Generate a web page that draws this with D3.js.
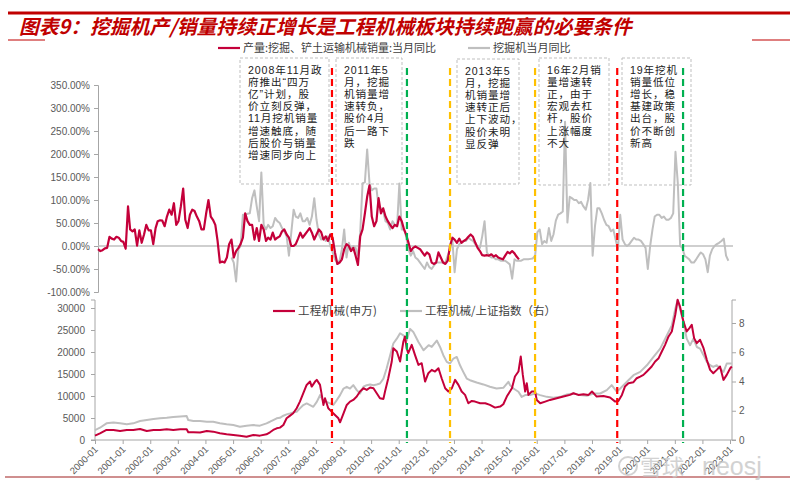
<!DOCTYPE html>
<html><head><meta charset="utf-8">
<script src="https://cdn.jsdelivr.net/npm/d3@7"></script>
<style>body{margin:0;background:#fff}svg{display:block}</style>
</head><body><svg id="c" width="800" height="496"></svg>
<script>
// ===== DATA =====
const titleText = "图表9：挖掘机产/销量持续正增长是工程机械板块持续跑赢的必要条件";
const topLegend = ["产量:挖掘、铲土运输机械销量:当月同比", "挖掘机当月同比"];
const bottomLegend = ["工程机械(申万)", "工程机械/上证指数（右）"];

// top chart: monthly YoY (%)
const prodYoYStart = "2000-01";
const prodYoY = [-7,-11,-9,-5,-4,20,16,14,20,18,
11,9,-6,86,36,32,36,1,34,7,
25,46,34,34,4,39,54,56,55,43,
64,79,68,93,46,54,86,125,57,39,
68,79,76,64,54,36,36,70,100,64,
57,46,11,-36,-34,-36,-25,4,14,-25,
-11,-4,4,18,71,54,46,46,14,39,
11,46,36,11,18,14,29,14,18,21,
32,36,25,18,0,0,4,16,29,18,
25,32,39,29,14,25,36,30,14,21,
11,25,18,-14,-39,-36,-29,-7,4,0,
-11,-4,-21,-41,21,36,71,107,132,64,
43,54,104,71,82,64,54,46,39,46,
43,64,54,36,25,7,-11,-4,-1,-4,
-7,-14,-21,-14,-18,-36,-39,-36,-14,-25,
-36,-39,-32,0,18,14,7,16,7,11,
14,20,25,20,7,-4,-11,-20,-21,-20,
-21,-18,-23,-20,-25,-27,-29,-21,-13,-16,
-11,-16,-23,-29];

const excYoYStart = "2004-11";
const excYoY = [-25,-36,
-77,-7,0,68,68,70,71,104,121,86,
54,160,46,36,46,39,43,61,54,50,
39,32,21,-21,29,79,64,61,71,54,
54,61,46,64,104,57,25,14,18,11,
21,0,-14,-29,-36,-32,-7,36,-25,7,
-7,0,-4,-21,29,136,139,210,136,121,
125,125,86,82,75,54,50,36,54,46,
43,136,36,36,21,-7,-21,-11,-25,-29,
-36,-43,-50,-36,-46,-50,-43,-36,-36,-36,
-36,-36,-21,-7,14,-57,-7,4,7,11,
11,18,14,11,4,0,-4,21,54,-14,
-21,-25,-25,-29,-29,-32,-32,-32,-36,-40,
-71,-29,-32,-32,-32,-29,-29,-29,-28,-27,
-21,30,36,4,11,7,39,11,25,55,
68,71,75,270,51,107,104,100,100,93,
96,86,79,100,137,-21,43,82,82,71,
57,46,43,32,36,14,-7,68,14,4,
0,4,11,18,14,14,11,4,-4,-50,
0,36,64,68,68,61,64,57,57,61,
71,205,136,0,-4,-21,-25,-29,-36,-36,
-29,-21,-14,-18,-29,-57,-21,-7,0,4,
7,11,16,-21,-32];

const topTicks = [-100,-50,0,50,100,150,200,250,300,350];

// bottom chart: Shenwan machinery index (left axis)
const machineryIndex = [["2000-01-01",990],["2000-03-07",1500],["2000-06-01",2280],["2000-09-01",2280],["2000-11-28",2050],["2001-02-25",2280],["2001-05-22",2280],["2001-08-19",2500],["2001-11-16",2050],["2002-02-13",2280],["2002-05-10",2280],["2002-08-07",2430],["2002-11-01",2280],["2003-02-01",2430],["2003-04-28",2430],["2003-05-19",1750],["2003-07-25",1750],["2003-10-22",1700],["2004-01-19",2050],["2004-04-13",1900],["2004-07-10",1520],["2004-10-07",1290],["2005-01-04",1140],["2005-04-01",990],["2005-06-28",760],["2005-09-25",1140],["2005-12-22",990],["2006-03-19",1290],["2006-05-04",1750],["2006-06-16",2280],["2006-08-01",2660],["2006-09-13",2810],["2006-10-28",3420],["2006-12-10",4930],["2007-01-25",5540],["2007-03-07",6070],["2007-04-22",7210],["2007-06-04",8730],["2007-07-19",10630],["2007-09-01",12520],["2007-10-16",13280],["2007-11-07",12140],["2007-12-22",13280],["2008-01-13",13660],["2008-02-25",12520],["2008-03-19",10250],["2008-04-10",7970],["2008-05-01",9490],["2008-06-13",7210],["2008-07-28",6450],["2008-09-10",5690],["2008-10-25",4930],["2008-11-16",4020],["2009-01-01",6070],["2009-02-13",7970],["2009-03-28",8730],["2009-05-10",9110],["2009-06-25",9870],["2009-08-07",11010],["2009-09-22",11760],["2009-11-04",11380],["2009-12-19",11920],["2010-02-01",11760],["2010-03-16",10630],["2010-04-28",9490],["2010-06-13",9340],["2010-07-04",11010],["2010-08-16",14040],["2010-10-01",17840],["2010-10-22",20870],["2010-12-07",20110],["2011-01-19",17840],["2011-03-04",22390],["2011-03-25",23530],["2011-04-16",20870],["2011-05-07",19730],["2011-06-22",21630],["2011-08-04",19350],["2011-09-19",17080],["2011-11-01",17460],["2011-12-16",13280],["2012-01-28",15180],["2012-03-13",15940],["2012-04-25",15560],["2012-06-10",16320],["2012-07-22",14040],["2012-09-07",11760],["2012-10-19",11010],["2012-12-04",11760],["2013-01-16",13660],["2013-03-01",12520],["2013-04-13",11010],["2013-05-28",10250],["2013-07-10",8350],["2013-08-25",8880],["2013-10-07",8730],["2013-12-13",8350],["2014-02-19",8350],["2014-04-22",7970],["2014-06-28",7360],["2014-09-04",7590],["2014-10-16",8120],["2014-12-01",9870],["2015-02-07",11760],["2015-03-19",14420],["2015-05-04",15560],["2015-06-04",18980],["2015-07-01",14800],["2015-08-01",11010],["2015-08-22",12900],["2015-09-13",10250],["2015-10-28",11010],["2015-12-10",11010],["2016-01-01",9110],["2016-02-16",8350],["2016-04-22",8730],["2016-06-25",9110],["2016-09-22",9490],["2016-12-19",9870],["2017-03-16",10250],["2017-05-01",10630],["2017-07-04",10250],["2017-09-10",10400],["2017-11-16",10250],["2018-01-01",11010],["2018-03-04",9870],["2018-06-01",10000],["2018-08-28",9640],["2018-11-04",8730],["2018-12-16",8880],["2019-02-01",10250],["2019-03-13",12140],["2019-04-28",12900],["2019-07-04",13130],["2019-08-16",14040],["2019-10-01",14420],["2019-11-13",14800],["2019-12-28",15560],["2020-03-01",16700],["2020-04-16",17840],["2020-06-01",18600],["2020-07-13",20110],["2020-08-25",21630],["2020-10-10",23530],["2020-11-22",24670],["2021-01-07",28460],["2021-02-07",31880],["2021-03-10",30360],["2021-04-25",26950],["2021-06-07",24670],["2021-07-13",25430],["2021-08-13",26190],["2021-09-13",23150],["2021-10-19",22010],["2021-12-01",22770],["2022-01-16",20870],["2022-02-28",18220],["2022-04-13",15940],["2022-05-25",15180],["2022-07-10",15940],["2022-08-22",16700],["2022-10-07",13660],["2022-11-19",14800],["2023-01-04",16320],["2023-01-25",16700]];

// bottom chart: machinery / SSE composite ratio (right axis)
const relativeRatio = [["2000-01-01",0.68],["2000-03-07",0.84],["2000-06-01",1.14],["2000-09-01",1.2],["2000-11-28",1.14],["2001-02-25",1.07],["2001-05-22",1.14],["2001-08-19",1.3],["2001-11-16",1.36],["2002-02-13",1.43],["2002-05-10",1.48],["2002-08-07",1.52],["2002-11-01",1.57],["2003-02-01",1.61],["2003-04-28",1.64],["2003-05-19",1.36],["2003-07-25",1.3],["2003-10-22",1.3],["2004-01-19",1.25],["2004-04-13",1.25],["2004-07-10",1.14],["2004-10-07",1.07],["2005-01-04",1.02],["2005-04-01",0.91],["2005-06-28",0.98],["2005-09-25",1.02],["2005-12-22",0.98],["2006-03-19",1.14],["2006-05-04",1.25],["2006-06-16",1.36],["2006-08-01",1.48],["2006-09-13",1.52],["2006-10-28",1.66],["2006-12-10",1.75],["2007-01-25",1.82],["2007-03-07",1.89],["2007-04-22",1.93],["2007-06-04",2.16],["2007-07-19",2.39],["2007-09-01",2.5],["2007-10-16",2.39],["2007-11-28",2.27],["2008-01-13",2.61],["2008-02-04",2.84],["2008-02-25",3.07],["2008-04-10",2.66],["2008-05-22",2.61],["2008-07-07",2.5],["2008-08-19",2.39],["2008-10-04",2.73],["2008-11-16",3.07],["2009-01-01",3.52],["2009-02-13",3.64],["2009-03-28",3.52],["2009-05-10",3.75],["2009-06-25",3.41],["2009-08-07",3.18],["2009-09-22",3.64],["2009-11-04",3.75],["2009-12-19",3.8],["2010-02-01",3.75],["2010-03-16",3.8],["2010-04-28",3.86],["2010-06-13",4.2],["2010-07-25",4.89],["2010-09-10",5.8],["2010-10-22",6.6],["2010-12-07",6.93],["2011-01-19",7.3],["2011-03-04",7.16],["2011-04-16",6.8],["2011-06-01",7.6],["2011-07-13",7.39],["2011-09-19",6.7],["2011-11-25",6.14],["2012-02-01",6.48],["2012-03-13",6.36],["2012-05-19",6.8],["2012-07-01",6.36],["2012-08-13",5.8],["2012-09-28",5.34],["2012-11-10",5.23],["2012-12-25",5.57],["2013-02-07",5.68],["2013-03-22",5.11],["2013-05-04",4.66],["2013-06-19",4.2],["2013-08-01",4.09],["2013-10-28",3.93],["2014-01-25",3.8],["2014-04-22",3.64],["2014-07-19",3.52],["2014-10-16",3.57],["2014-12-22",3.98],["2015-01-13",3.75],["2015-02-28",3.52],["2015-05-04",3.3],["2015-06-16",2.95],["2015-08-01",3.07],["2015-10-04",3.07],["2015-12-10",3.18],["2016-02-16",3.07],["2016-05-13",2.95],["2016-08-10",2.89],["2016-11-07",2.95],["2017-02-04",3.11],["2017-05-01",3.18],["2017-07-28",3.07],["2017-10-25",3.02],["2018-01-22",3.18],["2018-04-19",3.18],["2018-07-16",3.41],["2018-09-19",3.75],["2018-11-25",3.3],["2019-01-10",3.52],["2019-02-22",3.75],["2019-04-28",4.09],["2019-07-04",4.43],["2019-10-01",4.66],["2019-12-28",5.11],["2020-03-25",5.68],["2020-06-22",6.25],["2020-09-19",7.16],["2020-11-22",7.84],["2021-01-07",8.98],["2021-02-07",9.55],["2021-03-10",8.98],["2021-04-25",8.07],["2021-06-07",6.93],["2021-07-22",6.48],["2021-09-04",6.93],["2021-10-19",6.36],["2021-12-01",6.25],["2022-01-16",5.8],["2022-02-28",5.34],["2022-04-13",5.11],["2022-05-25",5.0],["2022-07-10",5.11],["2022-08-22",4.89],["2022-10-07",4.66],["2022-11-19",5.23],["2023-01-25",5.23]];

const leftTicks = [0,5000,10000,15000,20000,25000,30000];
const rightTicks = [0,2,4,6,8];
const xTickLabels = ["2000-01","2001-01","2002-01","2003-01","2004-01","2005-01","2006-01","2007-01","2008-01","2009-01","2010-01","2011-01","2012-01","2013-01","2014-01","2015-01","2016-01","2017-01","2018-01","2019-01","2020-01","2021-01","2022-01","2023-01"];

// vertical event markers
const markerDates = ["2008-08-01","2011-04-20","2012-11-10","2015-12-10","2018-12-01","2021-04-20"];
const markerKinds = ["negative","positive","neutral","neutral","negative","positive"];

// annotation texts
const noteLines = [
  ["2008年11月政","府推出“四万","亿”计划，股","价立刻反弹，","11月挖机销量","增速触底，随","后股价与销量","增速同步向上"],
  ["2011年5","月，挖掘","机销量增","速转负，","股价4月","后一路下","跌"],
  ["2013年5","月，挖掘","机销量增","速转正后","上下波动，","股价未明","显反弹"],
  ["16年2月销","量增速转","正，由于","宏观去杠","杆，股价","上涨幅度","不大"],
  ["19年挖机","销量低位","增长，稳","基建政策","出台，股","价不断创","新高"]
];
const watermark = ["雪球", "neosj"];

// ===== LAYOUT / STYLE =====
const RED = "#c4003a", GRAY = "#bfbfbf", AX = "#a6a6a6", TXT = "#595959";
const CJK = "'Noto Sans CJK SC','Noto Sans',sans-serif";
const NOTEF = "'Liberation Sans','Noto Sans CJK SC',sans-serif";
const LAT = "'Liberation Sans',Arial,sans-serif";
const kindColor = {negative:"#ff0000", positive:"#00b050", neutral:"#ffc000"};
const noteBoxes = [[240,58,329,184],[336,58,402,184],[457,59,519,184],[539,58,609,185],[622,58,691,185]];

const svg = d3.select("#c");
const pM = d3.timeParse("%Y-%m"), pD = d3.timeParse("%Y-%m-%d");
const d0 = pD("2000-01-01"), d1 = pD("2023-01-01");
const xTop = d3.scaleTime().domain([d0,d1]).range([98,733]);
const xBot = d3.scaleTime().domain([d0,d1]).range([95,730]);
const yTop = d3.scaleLinear().domain([-100,350]).range([292,85]);
const yLeft = d3.scaleLinear().domain([0,30000]).range([440,308]);
const yRight = d3.scaleLinear().domain([0,8]).range([440,323]);

// header
svg.append("line").attr("x1",8).attr("x2",790).attr("y1",13).attr("y2",13).attr("stroke","#c00000").attr("stroke-width",3);
svg.append("text").attr("x",19).attr("y",34).text(titleText)
  .attr("font-family",CJK).attr("font-size",19.8).attr("font-weight","bold").attr("font-style","italic").attr("fill","#c00000");
svg.append("line").attr("x1",8).attr("x2",45).attr("y1",40).attr("y2",40).attr("stroke","#c00000").attr("stroke-width",1.2);
svg.append("line").attr("x1",752).attr("x2",790).attr("y1",40).attr("y2",40).attr("stroke","#c00000").attr("stroke-width",1.2);

// legend helper
function legendItem(x, y, color, label, fs, ls) {
  svg.append("line").attr("x1",x).attr("x2",x+22).attr("y1",y).attr("y2",y).attr("stroke",color).attr("stroke-width",2.2);
  svg.append("text").attr("x",x+25).attr("y",y+4).text(label).attr("font-family",CJK).attr("font-size",fs)
    .attr("letter-spacing",ls).attr("fill","#404040");
}
legendItem(218,48,RED,topLegend[0],11.0,0);
legendItem(468,48,GRAY,topLegend[1],11.1,0);

// top axis
const gTop = svg.append("g").attr("transform","translate(98,0)")
  .call(d3.axisLeft(yTop).tickValues(topTicks).tickFormat(d=>d.toFixed(2)+"%").tickSize(4).tickPadding(4));
gTop.selectAll("path,line").attr("stroke",AX);
gTop.selectAll("text").attr("font-family",LAT).attr("font-size",10).attr("fill",TXT);
svg.append("line").attr("x1",98).attr("x2",733).attr("y1",yTop(0)).attr("y2",yTop(0)).attr("stroke",GRAY).attr("stroke-width",1.5);

const prodData = prodYoY.map((v,i)=>[d3.timeMonth.offset(pM(prodYoYStart),i),v]);
const excData = excYoY.map((v,i)=>[d3.timeMonth.offset(pM(excYoYStart),i),v]);
const lTop = d3.line().x(d=>xTop(d[0])).y(d=>yTop(d[1]));
svg.append("path").datum(excData).attr("d",lTop).attr("fill","none").attr("stroke",GRAY).attr("stroke-width",2).attr("stroke-linejoin","round");
svg.append("path").datum(prodData).attr("d",lTop).attr("fill","none").attr("stroke",RED).attr("stroke-width",2.2).attr("stroke-linejoin","round");

// bottom axes
const gL = svg.append("g").attr("transform","translate(95,0)")
  .call(d3.axisLeft(yLeft).tickValues(leftTicks).tickSize(4).tickPadding(6).tickFormat(d3.format("d")));
gL.select(".domain").attr("d","M-4,300H0V440H-4");
gL.selectAll("path,line").attr("stroke",AX);
gL.selectAll("text").attr("font-family",LAT).attr("font-size",10).attr("fill",TXT);
const gR = svg.append("g").attr("transform","translate(732,0)")
  .call(d3.axisRight(yRight).tickValues(rightTicks).tickSize(4).tickPadding(3));
gR.select(".domain").attr("d","M4,300H0V440H4");
gR.selectAll("path,line").attr("stroke",AX);
gR.selectAll("text").attr("font-family",LAT).attr("font-size",10).attr("fill",TXT);
const tickDates = xTickLabels.map(pM);
const gX = svg.append("g").attr("transform","translate(0,440)")
  .call(d3.axisBottom(xBot).tickValues(tickDates).tickSize(4).tickFormat(d3.timeFormat("%Y-%m")));
gX.select(".domain").attr("d","M95,0H732");
gX.selectAll("path,line").attr("stroke",AX);
gX.selectAll("text").attr("font-family",LAT).attr("font-size",9.5).attr("fill",TXT)
  .attr("text-anchor","end").attr("y",0).attr("dy",0)
  .attr("transform","translate(3,10) rotate(-45)");

const idxData = machineryIndex.map(d=>[pD(d[0]),d[1]]);
const ratData = relativeRatio.map(d=>[pD(d[0]),d[1]]);
svg.append("path").datum(ratData).attr("d",d3.line().x(d=>xBot(d[0])).y(d=>yRight(d[1])))
  .attr("fill","none").attr("stroke",GRAY).attr("stroke-width",2).attr("stroke-linejoin","round");
svg.append("path").datum(idxData).attr("d",d3.line().x(d=>xBot(d[0])).y(d=>yLeft(d[1])))
  .attr("fill","none").attr("stroke",RED).attr("stroke-width",2).attr("stroke-linejoin","round");

// bottom legend
legendItem(273,311,RED,bottomLegend[0],11.5,0.3);
legendItem(400,311,GRAY,bottomLegend[1],11.5,0);

// event markers
markerDates.forEach((d,i)=>{
  const x = xBot(pD(d));
  svg.append("line").attr("x1",x).attr("x2",x).attr("y1",68).attr("y2",443)
    .attr("stroke",kindColor[markerKinds[i]]).attr("stroke-width",2.2).attr("stroke-dasharray","7,4");
});

// annotation boxes
const NOTE_FS = 10.6, NOTE_LH = 12.1;
noteLines.forEach((lines,i)=>{
  const [x0,y0,x1,y1] = noteBoxes[i];
  svg.append("rect").attr("x",x0).attr("y",y0).attr("width",x1-x0).attr("height",y1-y0)
    .attr("fill","none").attr("stroke","#bfbfbf").attr("stroke-width",1).attr("stroke-dasharray","3,2");
  lines.forEach((s,j)=>{
    svg.append("text").attr("x",x0+8).attr("y",y0+16+j*NOTE_LH).text(s)
      .attr("font-family",NOTEF).attr("font-size",NOTE_FS).attr("letter-spacing",0.9).attr("fill","#222");
  });
});

// footer
svg.append("line").attr("x1",5).attr("x2",790).attr("y1",477).attr("y2",477).attr("stroke","#a02020").attr("stroke-width",1.2);
const wm = svg.append("g").attr("opacity",0.8);
wm.append("circle").attr("cx",628).attr("cy",466).attr("r",9).attr("fill","none").attr("stroke","#c8c8c8").attr("stroke-width",2);
wm.append("text").attr("x",640).attr("y",475).text(watermark[0]).attr("font-family",CJK).attr("font-size",22).attr("fill","#c8c8c8");
wm.append("text").attr("x",702).attr("y",475).text(watermark[1]).attr("font-family",LAT).attr("font-size",25).attr("fill","#c8c8c8");
</script></body></html>
